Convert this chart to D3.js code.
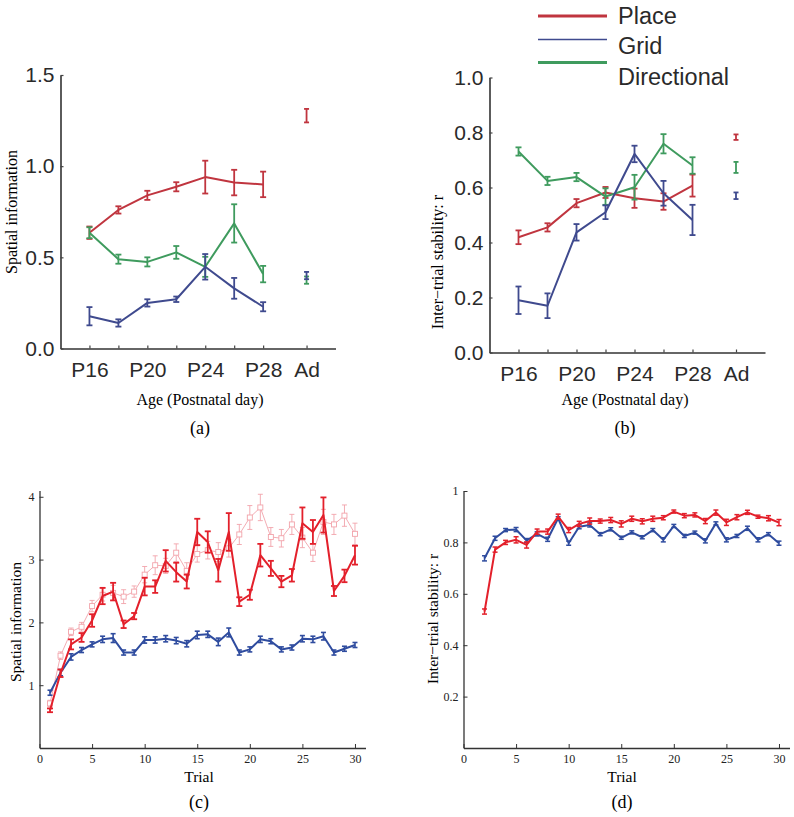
<!DOCTYPE html>
<html>
<head>
<meta charset="utf-8">
<script src="https://cdn.jsdelivr.net/npm/d3@7"></script>
<style>
  html, body { margin: 0; padding: 0; background: #fff; }
  svg { display: block; }
</style>
</head>
<body>
<svg id="chart" width="794" height="817"></svg>
<script>
// ---------------- DATA ----------------
// Age panels (a) and (b): P16..P28 plus adult ("Ad", plotted at day 31)
const ageDays = [16, 18, 20, 22, 24, 26, 28];
const adultDay = 31;
const ageTickDays = [16, 18, 20, 22, 24, 26, 28, 31];
const ageTickLabels = ["P16", "", "P20", "", "P24", "", "P28", "Ad"];
const legendNames = ["Place", "Grid", "Directional"];

// (a) Spatial information
const siPlace    = [0.635, 0.76, 0.84, 0.887, 0.94, 0.91, 0.90];
const siPlaceErr = [0.034, 0.02, 0.025, 0.025, 0.09, 0.07, 0.07];
const siGrid     = [0.177, 0.14, 0.25, 0.27, 0.448, 0.33, 0.229];
const siGridErr  = [0.05, 0.02, 0.02, 0.015, 0.07, 0.057, 0.025];
const siDir      = [0.635, 0.49, 0.475, 0.527, 0.448, 0.686, 0.408];
const siDirErr   = [0.03, 0.025, 0.025, 0.035, 0.055, 0.105, 0.045];
const siAdult    = [1.277, 0.40, 0.375];   // Place, Grid, Directional
const siAdultErr = [0.037, 0.02, 0.02];

// (b) Inter-trial stability
const stPlace    = [0.419, 0.455, 0.543, 0.582, 0.561, 0.549, 0.607];
const stPlaceErr = [0.025, 0.015, 0.015, 0.02, 0.035, 0.03, 0.04];
const stGrid     = [0.19, 0.17, 0.437, 0.51, 0.722, 0.579, 0.482];
const stGridErr  = [0.05, 0.045, 0.03, 0.025, 0.03, 0.045, 0.055];
const stDir      = [0.731, 0.624, 0.638, 0.567, 0.601, 0.759, 0.68];
const stDirErr   = [0.015, 0.015, 0.015, 0.03, 0.045, 0.035, 0.03];
const stAdult    = [0.783, 0.57, 0.673];
const stAdultErr = [0.01, 0.012, 0.02];

// (c) Spatial information by trial
const trials = d3.range(1, 31);
const cRed = [0.60,1.19,1.65,1.76,2.03,2.42,2.49,1.97,2.10,2.57,2.57,2.98,2.80,2.65,3.44,3.28,2.83,3.44,2.33,2.44,3.07,2.86,2.65,2.75,3.58,3.44,3.71,2.50,2.74,3.07];
const cRedErr = [0.03,0.06,0.08,0.07,0.10,0.13,0.14,0.06,0.05,0.14,0.10,0.17,0.15,0.11,0.21,0.17,0.18,0.30,0.07,0.08,0.18,0.12,0.09,0.10,0.25,0.19,0.28,0.08,0.10,0.15];
const cPink = [0.71,1.47,1.85,1.93,2.26,2.44,2.47,2.41,2.49,2.76,2.91,2.90,3.11,2.82,3.09,3.15,3.12,3.18,3.40,3.67,3.83,3.36,3.34,3.56,3.35,3.11,3.60,3.56,3.70,3.41];
const cPinkErr = [0.05,0.06,0.06,0.07,0.09,0.10,0.12,0.11,0.09,0.13,0.15,0.12,0.14,0.13,0.13,0.14,0.15,0.14,0.16,0.19,0.21,0.15,0.14,0.16,0.16,0.14,0.20,0.16,0.17,0.17];
const cBlue = [0.88,1.20,1.45,1.56,1.65,1.73,1.75,1.52,1.52,1.72,1.72,1.74,1.71,1.66,1.80,1.81,1.69,1.84,1.52,1.57,1.73,1.70,1.57,1.60,1.74,1.73,1.78,1.52,1.58,1.64];
const cBlueErr = [0.04,0.05,0.05,0.04,0.04,0.05,0.07,0.04,0.04,0.05,0.05,0.05,0.05,0.05,0.06,0.05,0.06,0.07,0.04,0.04,0.05,0.04,0.04,0.04,0.05,0.05,0.06,0.04,0.04,0.04];

// (d) Inter-trial stability by trial (trials 2..30)
const trialsD = d3.range(2, 31);
const dRed = [0.531,0.772,0.80,0.81,0.79,0.842,0.842,0.90,0.848,0.872,0.883,0.883,0.887,0.872,0.892,0.882,0.892,0.896,0.92,0.904,0.907,0.883,0.916,0.878,0.898,0.917,0.90,0.894,0.877];
const dRedErr = [0.010,0.010,0.008,0.012,0.012,0.010,0.010,0.010,0.010,0.010,0.012,0.008,0.010,0.012,0.010,0.010,0.010,0.008,0.006,0.008,0.008,0.010,0.010,0.012,0.010,0.008,0.006,0.010,0.012];
const dBlue = [0.738,0.816,0.848,0.85,0.807,0.833,0.812,0.894,0.797,0.861,0.868,0.832,0.851,0.818,0.839,0.82,0.848,0.81,0.864,0.825,0.838,0.806,0.874,0.81,0.825,0.855,0.81,0.832,0.797];
const dBlueErr = [0.010,0.008,0.006,0.008,0.008,0.008,0.008,0.006,0.008,0.008,0.008,0.006,0.006,0.006,0.006,0.006,0.006,0.008,0.006,0.006,0.006,0.008,0.006,0.008,0.006,0.008,0.008,0.006,0.008];

// ---------------- STYLE ----------------
const colA = { place: "#c0353f", grid: "#3f4a8e", dir: "#3f9b5e" };
const colC = { red: "#e3202b", pink: "#f2a3aa", blue: "#2f4c9f" };
const sans = "'Liberation Sans', Arial, Helvetica, sans-serif";
const serif = "'Liberation Serif', 'Times New Roman', Times, serif";

const svg = d3.select("#chart");

function errorBars(g, xs, ys, es, x, y, color, width, capW) {
  const sel = g.append("g").attr("stroke", color).attr("stroke-width", width).attr("fill", "none");
  xs.forEach((xv, i) => {
    const cx = x(xv), y1 = y(ys[i] - es[i]), y2 = y(ys[i] + es[i]);
    sel.append("line").attr("x1", cx).attr("x2", cx).attr("y1", y1).attr("y2", y2);
    sel.append("line").attr("x1", cx - capW / 2).attr("x2", cx + capW / 2).attr("y1", y1).attr("y2", y1);
    sel.append("line").attr("x1", cx - capW / 2).attr("x2", cx + capW / 2).attr("y1", y2).attr("y2", y2);
  });
}

function linePath(g, xs, ys, x, y, color, width) {
  const pts = xs.map((v, i) => [x(v), y(ys[i])]);
  g.append("path").attr("d", d3.line()(pts)).attr("fill", "none")
    .attr("stroke", color).attr("stroke-width", width).attr("stroke-linejoin", "round");
}

// ---------------- AGE PANELS ----------------
function agePanel(cfg) {
  const g = svg.append("g");
  const x = d3.scaleLinear().domain([14, 33]).range(cfg.xr);
  const y = d3.scaleLinear().domain([0, cfg.ymax]).range(cfg.yr);

  const xa = g.append("g").attr("transform", `translate(0,${cfg.yr[0]})`)
    .call(d3.axisBottom(x).tickValues(ageTickDays).tickFormat((d, i) => ageTickLabels[i])
      .tickSizeInner(-3).tickSizeOuter(0).tickPadding(14));
  const ya = g.append("g").attr("transform", `translate(${cfg.xr[0]},0)`)
    .call(d3.axisLeft(y).tickValues(cfg.yticks).tickFormat(d3.format(".1f"))
      .tickSizeInner(-3).tickSizeOuter(0).tickPadding(6));
  [xa, ya].forEach(a => {
    a.selectAll("path").attr("stroke", "#333").attr("stroke-width", 1.6);
    a.selectAll("line").attr("stroke", "#444").attr("stroke-width", 1.2);
    a.selectAll("text").attr("font-family", sans).attr("font-size", 21).attr("fill", "#2a2a2a");
  });

  const series = [
    { v: cfg.place, e: cfg.placeErr, c: colA.place, ai: 0 },
    { v: cfg.dir, e: cfg.dirErr, c: colA.dir, ai: 2 },
    { v: cfg.grid, e: cfg.gridErr, c: colA.grid, ai: 1 }
  ];
  series.forEach(s => {
    linePath(g, ageDays, s.v, x, y, s.c, 2);
    errorBars(g, ageDays, s.v, s.e, x, y, s.c, 1.8, 6);
    errorBars(g, [adultDay], [cfg.adult[s.ai]], [cfg.adultErr[s.ai]], x, y, s.c, 1.8, 5);
  });

  g.append("text").attr("x", cfg.ylabX).attr("y", cfg.ylabY)
    .attr("transform", `rotate(-90,${cfg.ylabX},${cfg.ylabY})`)
    .attr("text-anchor", "middle").attr("dominant-baseline", "central")
    .attr("font-family", serif).attr("font-size", 16).text(cfg.ylab);
  g.append("text").attr("x", cfg.cx).attr("y", 405)
    .attr("text-anchor", "middle").attr("font-family", serif).attr("font-size", 16)
    .text("Age (Postnatal day)");
  g.append("text").attr("x", cfg.cx).attr("y", 434)
    .attr("text-anchor", "middle").attr("font-family", serif).attr("font-size", 18)
    .text(cfg.tag);
}

agePanel({
  xr: [60.5, 335.5], yr: [348.5, 75], ymax: 1.5, yticks: [0, 0.5, 1.0, 1.5],
  place: siPlace, placeErr: siPlaceErr, grid: siGrid, gridErr: siGridErr,
  dir: siDir, dirErr: siDirErr, adult: siAdult, adultErr: siAdultErr,
  ylab: "Spatial information", ylabX: 11, ylabY: 212, cx: 200, tag: "(a)"
});
agePanel({
  xr: [489.5, 765], yr: [352.5, 77.5], ymax: 1.0, yticks: [0, 0.2, 0.4, 0.6, 0.8, 1.0],
  place: stPlace, placeErr: stPlaceErr, grid: stGrid, gridErr: stGridErr,
  dir: stDir, dirErr: stDirErr, adult: stAdult, adultErr: stAdultErr,
  ylab: "Inter\u2212trial stability: r", ylabX: 437, ylabY: 262, cx: 625, tag: "(b)"
});

// legend
const leg = svg.append("g");
const legCols = [colA.place, colA.grid, colA.dir];
const legW = [3.2, 1.6, 3.2];
const legLineY = [16, 39.5, 62.5];
const legTextY = [24, 54, 85];
legendNames.forEach((n, i) => {
  leg.append("line").attr("x1", 538).attr("x2", 607).attr("y1", legLineY[i]).attr("y2", legLineY[i])
    .attr("stroke", legCols[i]).attr("stroke-width", legW[i]);
  leg.append("text").attr("x", 618).attr("y", legTextY[i]).attr("font-family", sans)
    .attr("font-size", 23.5).attr("fill", "#2a2a2a").text(n);
});

// ---------------- TRIAL PANELS ----------------
function trialPanel(cfg) {
  const g = svg.append("g");
  const x = d3.scaleLinear().domain([0, 31]).range(cfg.xr);
  const y = d3.scaleLinear().domain([0, cfg.ymax]).range(cfg.yr);
  const xa = g.append("g").attr("transform", `translate(0,${cfg.yr[0]})`)
    .call(d3.axisBottom(x).tickValues(d3.range(0, 31, 5)).tickFormat(d3.format("d"))
      .tickSizeInner(-4).tickSizeOuter(0).tickPadding(6));
  const ya = g.append("g").attr("transform", `translate(${cfg.xr[0]},0)`)
    .call(d3.axisLeft(y).tickValues(cfg.yticks).tickFormat(cfg.yfmt)
      .tickSizeInner(-4).tickSizeOuter(0).tickPadding(5));
  [xa, ya].forEach(a => {
    a.selectAll("path").attr("stroke", "#333").attr("stroke-width", 1.3);
    a.selectAll("line").attr("stroke", "#333").attr("stroke-width", 1);
    a.selectAll("text").attr("font-family", serif).attr("font-size", 12).attr("fill", "#222");
  });
  cfg.draw(g, x, y);
  g.append("text").attr("x", cfg.ylabX).attr("y", cfg.ylabY)
    .attr("transform", `rotate(-90,${cfg.ylabX},${cfg.ylabY})`)
    .attr("text-anchor", "middle").attr("dominant-baseline", "central")
    .attr("font-family", serif).attr("font-size", 15.5).text(cfg.ylab);
  g.append("text").attr("x", cfg.cx).attr("y", 782)
    .attr("text-anchor", "middle").attr("font-family", serif).attr("font-size", 15.5).text("Trial");
  g.append("text").attr("x", cfg.cx).attr("y", 808)
    .attr("text-anchor", "middle").attr("font-family", serif).attr("font-size", 18).text(cfg.tag);
}

trialPanel({
  xr: [39.5, 365.5], yr: [748, 490.5], ymax: 4.1, yticks: [1, 2, 3, 4], yfmt: d3.format("d"),
  ylab: "Spatial information", ylabX: 15, ylabY: 622, cx: 199, tag: "(c)",
  draw: (g, x, y) => {
    // light pink with open squares
    linePath(g, trials, cPink, x, y, colC.pink, 0.9);
    errorBars(g, trials, cPink, cPinkErr, x, y, colC.pink, 0.9, 5);
    g.append("g").selectAll("rect").data(trials).join("rect")
      .attr("x", d => x(d) - 2.5).attr("y", (d, i) => y(cPink[i]) - 2.5)
      .attr("width", 5).attr("height", 5).attr("fill", "#fff")
      .attr("stroke", colC.pink).attr("stroke-width", 0.9);
    linePath(g, trials, cBlue, x, y, colC.blue, 2);
    errorBars(g, trials, cBlue, cBlueErr, x, y, colC.blue, 1.6, 5);
    linePath(g, trials, cRed, x, y, colC.red, 2);
    errorBars(g, trials, cRed, cRedErr, x, y, colC.red, 1.8, 6);
  }
});

trialPanel({
  xr: [463.5, 789.5], yr: [748, 491], ymax: 1.0, yticks: [0.2, 0.4, 0.6, 0.8, 1.0],
  yfmt: d => (d === 1 ? "1" : d3.format(".1f")(d)),
  ylab: "Inter\u2212trial stability: r", ylabX: 432, ylabY: 619, cx: 622, tag: "(d)",
  draw: (g, x, y) => {
    linePath(g, trialsD, dBlue, x, y, colC.blue, 2);
    errorBars(g, trialsD, dBlue, dBlueErr, x, y, colC.blue, 1.5, 5);
    linePath(g, trialsD, dRed, x, y, colC.red, 2);
    errorBars(g, trialsD, dRed, dRedErr, x, y, colC.red, 1.5, 5);
  }
});
</script>
</body>
</html>
